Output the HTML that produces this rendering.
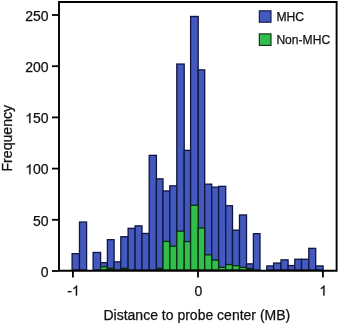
<!DOCTYPE html>
<html><head><meta charset="utf-8"><style>
html,body{margin:0;padding:0;background:#fff;}
svg{display:block;will-change:transform;}
text{font-family:"Liberation Sans",sans-serif;fill:#111;stroke:#111;stroke-width:0.25px;}
</style></head><body>
<svg width="339" height="323" viewBox="0 0 339 323">
<rect width="339" height="323" fill="#fff"/>
<rect x="72.10" y="253.65" width="7.40" height="16.35" fill="#4359bd" stroke="#111640" stroke-width="1.3"/>
<rect x="79.50" y="222.05" width="7.10" height="47.95" fill="#4359bd" stroke="#111640" stroke-width="1.3"/>
<rect x="93.10" y="252.45" width="7.50" height="17.55" fill="#4359bd" stroke="#111640" stroke-width="1.3"/>
<rect x="100.60" y="262.65" width="6.80" height="7.35" fill="#4359bd" stroke="#111640" stroke-width="1.3"/>
<rect x="107.40" y="239.65" width="6.70" height="30.35" fill="#4359bd" stroke="#111640" stroke-width="1.3"/>
<rect x="114.10" y="261.85" width="6.70" height="8.15" fill="#4359bd" stroke="#111640" stroke-width="1.3"/>
<rect x="120.80" y="236.75" width="7.30" height="33.25" fill="#4359bd" stroke="#111640" stroke-width="1.3"/>
<rect x="128.10" y="228.35" width="7.00" height="41.65" fill="#4359bd" stroke="#111640" stroke-width="1.3"/>
<rect x="135.10" y="225.85" width="6.90" height="44.15" fill="#4359bd" stroke="#111640" stroke-width="1.3"/>
<rect x="142.00" y="233.45" width="7.20" height="36.55" fill="#4359bd" stroke="#111640" stroke-width="1.3"/>
<rect x="149.20" y="155.35" width="7.20" height="114.65" fill="#4359bd" stroke="#111640" stroke-width="1.3"/>
<rect x="156.40" y="178.85" width="6.60" height="91.15" fill="#4359bd" stroke="#111640" stroke-width="1.3"/>
<rect x="163.00" y="190.95" width="6.80" height="79.05" fill="#4359bd" stroke="#111640" stroke-width="1.3"/>
<rect x="169.80" y="185.85" width="7.00" height="84.15" fill="#4359bd" stroke="#111640" stroke-width="1.3"/>
<rect x="176.80" y="64.05" width="7.40" height="205.95" fill="#4359bd" stroke="#111640" stroke-width="1.3"/>
<rect x="184.20" y="150.35" width="6.40" height="119.65" fill="#4359bd" stroke="#111640" stroke-width="1.3"/>
<rect x="190.60" y="16.45" width="7.60" height="253.55" fill="#4359bd" stroke="#111640" stroke-width="1.3"/>
<rect x="198.20" y="69.85" width="6.50" height="200.15" fill="#4359bd" stroke="#111640" stroke-width="1.3"/>
<rect x="204.70" y="184.15" width="7.00" height="85.85" fill="#4359bd" stroke="#111640" stroke-width="1.3"/>
<rect x="211.70" y="187.15" width="6.90" height="82.85" fill="#4359bd" stroke="#111640" stroke-width="1.3"/>
<rect x="218.60" y="186.35" width="7.10" height="83.65" fill="#4359bd" stroke="#111640" stroke-width="1.3"/>
<rect x="225.70" y="205.75" width="6.80" height="64.25" fill="#4359bd" stroke="#111640" stroke-width="1.3"/>
<rect x="232.50" y="230.15" width="7.00" height="39.85" fill="#4359bd" stroke="#111640" stroke-width="1.3"/>
<rect x="239.50" y="214.95" width="7.00" height="55.05" fill="#4359bd" stroke="#111640" stroke-width="1.3"/>
<rect x="246.50" y="263.85" width="6.90" height="6.15" fill="#4359bd" stroke="#111640" stroke-width="1.3"/>
<rect x="253.40" y="233.65" width="6.60" height="36.35" fill="#4359bd" stroke="#111640" stroke-width="1.3"/>
<rect x="266.80" y="265.95" width="6.80" height="4.05" fill="#4359bd" stroke="#111640" stroke-width="1.3"/>
<rect x="273.60" y="263.05" width="7.40" height="6.95" fill="#4359bd" stroke="#111640" stroke-width="1.3"/>
<rect x="281.00" y="259.85" width="7.10" height="10.15" fill="#4359bd" stroke="#111640" stroke-width="1.3"/>
<rect x="288.10" y="265.55" width="6.70" height="4.45" fill="#4359bd" stroke="#111640" stroke-width="1.3"/>
<rect x="294.80" y="259.25" width="6.70" height="10.75" fill="#4359bd" stroke="#111640" stroke-width="1.3"/>
<rect x="301.50" y="259.25" width="7.30" height="10.75" fill="#4359bd" stroke="#111640" stroke-width="1.3"/>
<rect x="308.80" y="248.35" width="6.90" height="21.65" fill="#4359bd" stroke="#111640" stroke-width="1.3"/>
<rect x="315.70" y="265.95" width="7.40" height="4.05" fill="#4359bd" stroke="#111640" stroke-width="1.3"/>
<rect x="100.60" y="266.75" width="6.80" height="3.25" fill="#30be4c" stroke="#0a2a10" stroke-width="1.3"/>
<rect x="107.40" y="268.30" width="6.70" height="1.70" fill="#1a3f22" stroke="#0a2a10" stroke-width="1.3"/>
<rect x="120.80" y="268.30" width="7.30" height="1.70" fill="#1a3f22" stroke="#0a2a10" stroke-width="1.3"/>
<rect x="156.40" y="268.30" width="6.60" height="1.70" fill="#1a3f22" stroke="#0a2a10" stroke-width="1.3"/>
<rect x="163.00" y="241.45" width="6.80" height="28.55" fill="#30be4c" stroke="#0a2a10" stroke-width="1.3"/>
<rect x="169.80" y="246.15" width="7.00" height="23.85" fill="#30be4c" stroke="#0a2a10" stroke-width="1.3"/>
<rect x="176.80" y="231.15" width="7.40" height="38.85" fill="#30be4c" stroke="#0a2a10" stroke-width="1.3"/>
<rect x="184.20" y="241.55" width="6.40" height="28.45" fill="#30be4c" stroke="#0a2a10" stroke-width="1.3"/>
<rect x="190.60" y="205.25" width="7.60" height="64.75" fill="#30be4c" stroke="#0a2a10" stroke-width="1.3"/>
<rect x="198.20" y="227.95" width="6.50" height="42.05" fill="#30be4c" stroke="#0a2a10" stroke-width="1.3"/>
<rect x="204.70" y="254.85" width="7.00" height="15.15" fill="#30be4c" stroke="#0a2a10" stroke-width="1.3"/>
<rect x="211.70" y="260.05" width="6.90" height="9.95" fill="#30be4c" stroke="#0a2a10" stroke-width="1.3"/>
<rect x="218.60" y="267.35" width="7.10" height="2.65" fill="#30be4c" stroke="#0a2a10" stroke-width="1.3"/>
<rect x="225.70" y="264.55" width="6.80" height="5.45" fill="#30be4c" stroke="#0a2a10" stroke-width="1.3"/>
<rect x="232.50" y="265.65" width="7.00" height="4.35" fill="#30be4c" stroke="#0a2a10" stroke-width="1.3"/>
<rect x="239.50" y="267.35" width="7.00" height="2.65" fill="#30be4c" stroke="#0a2a10" stroke-width="1.3"/>
<rect x="246.50" y="268.40" width="6.90" height="1.60" fill="#1a3f22" stroke="#0a2a10" stroke-width="1.3"/>
<path d="M59 271 V2 H336.6 V270.8 H59" fill="none" stroke="#000" stroke-width="1.9"/>
<line x1="52" y1="271.00" x2="59" y2="271.00" stroke="#000" stroke-width="1.8"/>
<text x="40.81" y="276.70" font-size="14.0">0</text>
<line x1="52" y1="219.80" x2="59" y2="219.80" stroke="#000" stroke-width="1.8"/>
<text x="33.03" y="225.50" font-size="14.0">5</text>
<text x="40.81" y="225.50" font-size="14.0">0</text>
<line x1="52" y1="168.60" x2="59" y2="168.60" stroke="#000" stroke-width="1.8"/>
<path d="M372.6 0L284.7 0L284.7 560Q253 529.8 201.4 499.5Q150 469.2 108.9 454L108.9 539Q182.6 573.7 237.8 623Q293 672.4 316 718.75L372.6 718.75Z" transform="translate(25.24,174.30) scale(0.01400,-0.01400)" fill="#111" stroke="#111" stroke-width="17.9"/>
<text x="33.03" y="174.30" font-size="14.0">0</text>
<text x="40.81" y="174.30" font-size="14.0">0</text>
<line x1="52" y1="117.40" x2="59" y2="117.40" stroke="#000" stroke-width="1.8"/>
<path d="M372.6 0L284.7 0L284.7 560Q253 529.8 201.4 499.5Q150 469.2 108.9 454L108.9 539Q182.6 573.7 237.8 623Q293 672.4 316 718.75L372.6 718.75Z" transform="translate(25.24,123.10) scale(0.01400,-0.01400)" fill="#111" stroke="#111" stroke-width="17.9"/>
<text x="33.03" y="123.10" font-size="14.0">5</text>
<text x="40.81" y="123.10" font-size="14.0">0</text>
<line x1="52" y1="66.20" x2="59" y2="66.20" stroke="#000" stroke-width="1.8"/>
<text x="25.24" y="71.90" font-size="14.0">2</text>
<text x="33.03" y="71.90" font-size="14.0">0</text>
<text x="40.81" y="71.90" font-size="14.0">0</text>
<line x1="52" y1="15.00" x2="59" y2="15.00" stroke="#000" stroke-width="1.8"/>
<text x="25.24" y="20.70" font-size="14.0">2</text>
<text x="33.03" y="20.70" font-size="14.0">5</text>
<text x="40.81" y="20.70" font-size="14.0">0</text>
<line x1="72.9" y1="271" x2="72.9" y2="277.6" stroke="#000" stroke-width="1.8"/>
<text x="67.20" y="295.50" font-size="14.0">-</text>
<path d="M372.6 0L284.7 0L284.7 560Q253 529.8 201.4 499.5Q150 469.2 108.9 454L108.9 539Q182.6 573.7 237.8 623Q293 672.4 316 718.75L372.6 718.75Z" transform="translate(71.86,295.50) scale(0.01400,-0.01400)" fill="#111" stroke="#111" stroke-width="17.9"/>
<line x1="198.0" y1="271" x2="198.0" y2="277.6" stroke="#000" stroke-width="1.8"/>
<text x="194.40" y="295.50" font-size="14.0">0</text>
<line x1="322.9" y1="271" x2="322.9" y2="277.6" stroke="#000" stroke-width="1.8"/>
<path d="M372.6 0L284.7 0L284.7 560Q253 529.8 201.4 499.5Q150 469.2 108.9 454L108.9 539Q182.6 573.7 237.8 623Q293 672.4 316 718.75L372.6 718.75Z" transform="translate(319.30,295.50) scale(0.01400,-0.01400)" fill="#111" stroke="#111" stroke-width="17.9"/>
<rect x="259.3" y="10.8" width="11.7" height="11.4" fill="#4359bd" stroke="#111640" stroke-width="1.1"/>
<rect x="259.3" y="33.9" width="11.7" height="11.5" fill="#30be4c" stroke="#0a2a10" stroke-width="1.1"/>
<text x="276.4" y="20.7" font-size="12.15">MHC</text>
<text x="276.4" y="43.9" font-size="12.1">Non-MHC</text>
<text transform="translate(12.0,138.2) rotate(-90)" text-anchor="middle" font-size="14.1">Frequency</text>
<text x="196.85" y="319.7" text-anchor="middle" font-size="14">Distance to probe center (MB)</text>
</svg>
</body></html>
